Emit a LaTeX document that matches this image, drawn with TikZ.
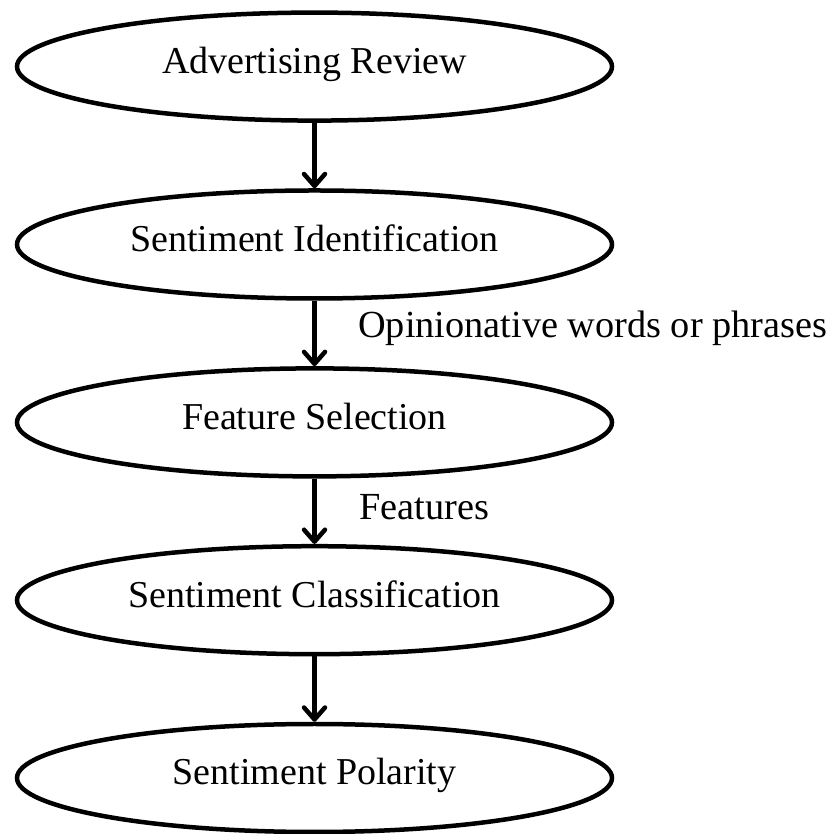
\documentclass[tikz,border=0pt]{standalone}
\usepackage{fontspec}
\setmainfont{Liberation Serif}
\usetikzlibrary{shapes.geometric,arrows.meta}

\tikzset{
  stage/.style={ellipse, draw, line width=4.5pt, inner sep=0pt,
    minimum width=595pt, minimum height=108pt,
    text height=24pt, text depth=10pt,
    font=\fontsize{38}{45}\selectfont},
  flow/.style={line width=4.5pt,
    -{Straight Barb[length=12pt,width=21pt,line width=4.5pt,round]}},
  note/.style={anchor=base west, inner sep=0pt,
    font=\fontsize{38.3}{45}\selectfont}
}

\begin{document}
\begin{tikzpicture}[x=1pt, y=1pt]
  \useasboundingbox (0,0) rectangle (829,834);

  \node[stage] (review)   at (314.5, 767.4) {Advertising Review};
  \node[stage] (ident)    at (314.5, 589.5) {Sentiment Identification};
  \node[stage] (select)   at (314.5, 411.6) {Feature Selection};
  \node[stage] (classify) at (314.5, 233.8) {Sentiment Classification};
  \node[stage] (polarity) at (314.5,  56.0) {Sentiment Polarity};

  \draw[flow] (review)   -- (ident);
  \draw[flow] (ident)    -- (select);
  \draw[flow] (select)   -- (classify);
  \draw[flow] (classify) -- (polarity);

  \node[note] (opinion) at (358, 496) {Opinionative words or phrases};
  \node[note] (feat)    at (359, 314) {Features};
\end{tikzpicture}
\end{document}
